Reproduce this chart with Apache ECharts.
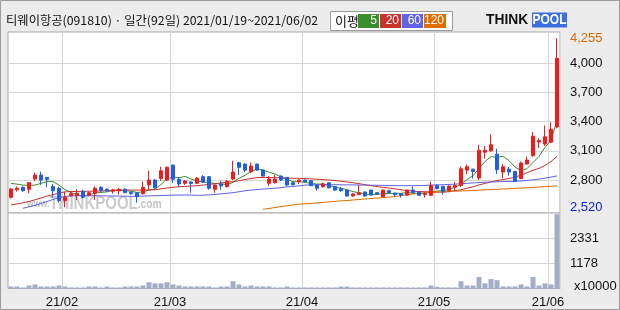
<!DOCTYPE html>
<html><head><meta charset="utf-8">
<script src="https://cdn.jsdelivr.net/npm/echarts@6/dist/echarts.min.js"></script>
<style>html,body{margin:0;padding:0;background:#ececec}#c{width:620px;height:310px}</style>
</head><body><div id="c"></div><script>
// ---- data ----
const dates = ['01/19','01/20','01/21','01/22','01/25','01/26','01/27','01/28','01/29',
 '02/01','02/02','02/03','02/04','02/05','02/08','02/09','02/10','02/15','02/16','02/17','02/18','02/19','02/22','02/23','02/24','02/25','02/26',
 '03/02','03/03','03/04','03/05','03/08','03/09','03/10','03/11','03/12','03/15','03/16','03/17','03/18','03/19','03/22','03/23','03/24','03/25','03/26','03/29','03/30','03/31',
 '04/01','04/02','04/05','04/06','04/07','04/08','04/09','04/12','04/13','04/14','04/15','04/16','04/19','04/20','04/21','04/22','04/23','04/26','04/27','04/28','04/29','04/30',
 '05/03','05/04','05/06','05/07','05/10','05/11','05/12','05/13','05/14','05/17','05/18','05/20','05/21','05/24','05/25','05/26','05/27','05/28','05/31',
 '06/01','06/02'];
const openP = [2623,2700,2725,2705,2810,2851,2827,2734,2713,2590, 2640,2645,2684,2645,2664,2725,2705,2685,2690,2705, 2675,2670,2660,2750,2800,2817,2800,2953,2808,2766, 2780,2766,2834,2834,2705,2760,2732,2810,2977,2963, 2885,2963,2902,2766,2772,2841,2827,2772,2783,2800, 2793,2749,2732,2772,2732,2711,2697,2636,2650,2677, 2697,2670,2629,2690,2665,2660,2646,2697,2677,2650, 2643,2745,2735,2690,2725,2745,2902,2912,2820,3086, 3100,3066,2882,2912,2888,2814,2964,3050,3190,3169, 3189,3345];
const closeP = [2708,2716,2690,2773,2851,2800,2807,2690,2590,2623, 2660,2665,2623,2670,2715,2690,2690,2700,2705,2670, 2660,2630,2725,2800,2720,2895,2930,2808,2760,2790, 2765,2820,2777,2715,2749,2740,2787,2882,2930,2902, 2943,2902,2841,2810,2810,2800,2749,2752,2800,2783, 2742,2715,2760,2720,2697,2690,2636,2657,2670,2636, 2646,2655,2697,2670,2650,2645,2697,2670,2643,2660, 2745,2711,2684,2738,2745,2915,2936,2888,3107,3107, 3162,2906,2936,2882,2786,2974,3005,3250,3205,3244, 3322,4050];
const highP = [2720,2735,2735,2780,2875,2885,2830,2760,2730,2680, 2690,2705,2700,2680,2735,2735,2715,2710,2715,2715, 2680,2675,2783,2895,2810,2936,2940,2960,2830,2800, 2790,2830,2850,2840,2755,2790,2800,2998,2988,2975, 2980,2970,2905,2840,2850,2845,2830,2780,2805,2805, 2800,2752,2775,2775,2735,2725,2700,2665,2750,2685, 2700,2675,2700,2700,2670,2665,2700,2735,2680,2675, 2780,2755,2740,2745,2780,2940,2960,2915,3162,3150, 3271,3120,2965,2935,2890,2990,3040,3292,3230,3360, 3394,4255];
const lowP = [2610,2680,2680,2664,2790,2750,2725,2620,2570,2520, 2630,2595,2610,2630,2595,2680,2680,2660,2650,2665, 2650,2567,2650,2697,2710,2790,2790,2770,2730,2750, 2670,2760,2770,2700,2670,2700,2725,2800,2851,2880, 2870,2895,2835,2740,2765,2790,2735,2745,2760,2778, 2740,2690,2720,2715,2690,2680,2630,2630,2645,2630, 2640,2650,2625,2665,2630,2620,2640,2665,2640,2620, 2635,2705,2650,2680,2690,2730,2860,2815,2800,3020, 3090,2860,2820,2845,2780,2810,2960,3040,3130,3150, 3180,3330];
const ma5 = [2765,2758,2748,2745,2748,2766,2784,2784,2748,2702, 2674,2646,2632,2648,2667,2673,2678,2693,2700,2691, 2685,2673,2678,2697,2707,2754,2814,2831,2823,2837, 2811,2789,2782,2773,2765,2760,2754,2775,2818,2848, 2889,2912,2904,2880,2861,2833,2802,2784,2782,2777, 2765,2758,2760,2744,2727,2716,2701,2680,2670,2658, 2649,2653,2661,2661,2664,2663,2672,2666,2661,2663, 2683,2686,2689,2708,2725,2759,2804,2844,2918,2991, 3040,3034,3044,2999,2934,2897,2917,2979,3044,3136, 3205,3414];
const ma20 = [2544,2555,2566,2580,2597,2615,2635,2650,2665,2678, 2682,2683,2684,2685,2686,2688,2690,2692,2695,2697, 2697,2697,2697,2698,2700,2710,2718,2726,2731,2735, 2738,2742,2749,2755,2762,2770,2777,2783,2793,2805, 2815,2825,2827,2826,2825,2823,2820,2818,2817,2815, 2812,2808,2805,2800,2795,2788,2780,2772,2763,2752, 2742,2733,2725,2718,2710,2700,2692,2686,2682,2680, 2678,2676,2675,2680,2690,2700,2715,2730,2750,2765, 2780,2795,2805,2815,2830,2850,2875,2900,2920,2950, 2990,3042];
const ma60 = [null,null,2510,2525,2540,2560,2580,2600,2620,2632, 2637,2640,2640,2640,2639,2638,2637,2636,2635,2634, 2633,2633,2635,2637,2639,2641,2643,2645,2646,2646, 2646,2643,2644,2648,2652,2658,2664,2670,2680,2690, 2697,2702,2707,2712,2716,2722,2730,2735,2740,2748, 2750,2751,2752,2752,2752,2751,2750,2750,2749,2748, 2747,2746,2745,2743,2742,2742,2742,2742,2743,2745, 2748,2750,2752,2755,2758,2762,2766,2770,2774,2778, 2780,2782,2784,2786,2788,2790,2795,2802,2810,2820, 2830,2842];
const ma120 = [null,null,null,null,null,null,null,null,null,null, null,null,null,null,null,null,null,null,null,null, null,null,null,null,null,null,null,null,null,null, null,null,null,null,null,null,null,null,null,null, null,null,2500,2508,2518,2527,2535,2545,2552,2556, 2560,2565,2570,2576,2581,2586,2590,2595,2600,2605, 2610,2615,2620,2625,2630,2640,2648,2656,2664,2670, 2675,2678,2680,2683,2686,2688,2690,2693,2696,2699, 2702,2705,2708,2711,2714,2717,2720,2724,2728,2732, 2736,2740];
const volume = [95,95,50,140,190,95,95,95,140,95, 50,50,50,95,95,50,95,50,50,95, 95,95,140,290,240,240,290,190,140,95, 95,95,95,95,50,95,95,340,190,95, 140,95,95,95,50,50,95,50,50,50, 50,50,50,50,50,95,95,50,50,50, 50,50,50,50,50,50,50,50,50,50, 140,80,50,50,50,340,140,140,540,240, 440,390,95,95,95,190,95,540,140,240, 190,3470];
const monthStarts = [9,27,49,71,90];
const priceTicks = [2800,3100,3400,3700,4000];
const priceLabels = [2520,2800,3100,3400,3700,4000,4255];
const volTicks = [1178,2331];
const titleText = '티웨이항공(091810) · 일간(92일) 2021/01/19~2021/06/02';
const maNames = ['5','20','60','120'];
const maColors = ['#3b8e2c','#c8322c','#6262e4','#e06f00'];

// ---- chart ----
const chart = echarts.init(document.getElementById('c'), null, {renderer:'canvas'});
const fmt = v => String(v).replace(/\B(?=(\d{3})+(?!\d))/g, ',');
const GL = 8, GW = 552;
const LS = '"Liberation Sans"';
const xBase = {
  type:'category', data:dates, boundaryGap:true,
  axisLine:{show:false}, axisTick:{show:false},
  splitLine:{show:true, interval:(i)=>monthStarts.includes(i), lineStyle:{color:'#d6d6d6', width:1}}
};
const maSeries = [ma5, ma20, ma60, ma120].map((d,k)=>({
  name:'MA'+maNames[k], type:'line', data:d, xAxisIndex:0, yAxisIndex:0,
  symbol:'none', lineStyle:{width:1, color:maColors[k]}, itemStyle:{color:maColors[k]},
  connectNulls:false, z:3, silent:true
}));
const legendEls = [];
const boxX = [358,380,402,424], boxW = [21,21,21,22];
maNames.forEach((n,k)=>{
  legendEls.push({type:'rect', shape:{x:boxX[k], y:14, width:boxW[k], height:14}, style:{fill:maColors[k]}});
  legendEls.push({type:'text', x:boxX[k]+boxW[k]-2, y:21, style:{text:n, fill:'#fff', font:'12px '+LS, align:'right', verticalAlign:'middle'}});
});
chart.setOption({
  animation:false,
  backgroundColor:'#ececec',
  grid:[
    {left:GL, width:GW, top:32, height:181, show:true, backgroundColor:'#fff', borderColor:'#a9a9a9', borderWidth:1},
    {left:GL, width:GW, top:213, height:75.5, show:true, backgroundColor:'#fff', borderColor:'#a9a9a9', borderWidth:1}
  ],
  xAxis:[
    Object.assign({gridIndex:0, axisLabel:{show:false}}, xBase),
    Object.assign({gridIndex:1, axisLabel:{show:true, interval:(i)=>monthStarts.includes(i), formatter:(v)=>'21/'+v.slice(0,2),
      color:'#111', fontSize:13, fontFamily:'Liberation Sans', margin:7, padding:[0,6,0,0]}}, xBase)
  ],
  yAxis:[
    {type:'value', gridIndex:0, position:'right', min:2461.5, max:4320, scale:true,
     axisLine:{show:false}, axisTick:{show:false, customValues:priceTicks},
     splitLine:{show:true, lineStyle:{color:'#d6d6d6', width:1}},
     axisLabel:{customValues:priceLabels, margin:10, fontSize:13, fontFamily:LS, color:'#111',
       formatter:(v)=> v===4255 ? '{o|'+fmt(v)+'}' : v===2520 ? '{b|'+fmt(v)+'}' : fmt(v),
       rich:{o:{color:'#d86a00', fontSize:13, fontFamily:LS}, b:{color:'#1020d0', fontSize:13, fontFamily:LS}}}},
    {type:'value', gridIndex:1, position:'right', min:0, max:3530,
     axisLine:{show:false}, axisTick:{show:false, customValues:volTicks},
     splitLine:{show:true, lineStyle:{color:'#d6d6d6', width:1}},
     axisLabel:{customValues:[0].concat(volTicks), margin:10, fontSize:13, fontFamily:LS, color:'#111',
       formatter:(v)=> v===0 ? '{x|x10000}' : String(v),
       rich:{x:{fontSize:13, fontFamily:LS, color:'#111', padding:[0,0,5,4]}}}}
  ],
  graphic:[
    {type:'rect', shape:{x:0.5,y:0.5,width:619,height:309}, style:{fill:'none', stroke:'#9c9c9c', lineWidth:1}, z:100},
    {type:'text', x:6, y:20, style:{text:titleText, fill:'#111', font:'12.3px "Noto Sans CJK KR"', verticalAlign:'middle'}},
    {type:'rect', shape:{x:330.5,y:11.5,width:122,height:19}, style:{fill:'#fff', stroke:'#9a9a9a', lineWidth:1}},
    {type:'text', x:335, y:21, style:{text:'이평', fill:'#111', font:'13px "Noto Sans CJK KR"', verticalAlign:'middle'}},
    ...legendEls,
    {type:'text', x:486, y:20, scaleX:0.92, style:{text:'THINK', fill:'#111', font:'bold 15px '+LS, verticalAlign:'middle'}},
    {type:'rect', shape:{x:532, y:12.5, width:35, height:15}, style:{fill:'#3d6fe0'}},
    {type:'text', x:549.5, y:20, scaleX:0.8, style:{text:'POOL', fill:'#fff', font:'bold 15px '+LS, align:'center', verticalAlign:'middle'}},
    {type:'text', x:27, y:204, z:1, scaleX:0.79, style:{text:'{a|www.}{b|THINKPOOL}{c|.com}', verticalAlign:'middle',
      rich:{a:{fill:'#c2c2c2', font:'bold 11px '+LS}, b:{fill:'#cbcbcb', font:'bold 19px '+LS}, c:{fill:'#c2c2c2', font:'bold 13px '+LS}}}}
  ],
  series:[
    {type:'candlestick', name:'price', xAxisIndex:0, yAxisIndex:0, barWidth:4, z:4,
     data:dates.map((d,i)=>[openP[i], closeP[i], lowP[i], highP[i]]),
     itemStyle:{color:'#f21b1b', color0:'#1f5fe6', borderColor:'#f21b1b', borderColor0:'#1f5fe6', borderWidth:1}},
    ...maSeries,
    {type:'bar', name:'volume', xAxisIndex:1, yAxisIndex:1, barWidth:5, data:volume, itemStyle:{color:'#a2adc7'}}
  ]
});
</script></body></html>
